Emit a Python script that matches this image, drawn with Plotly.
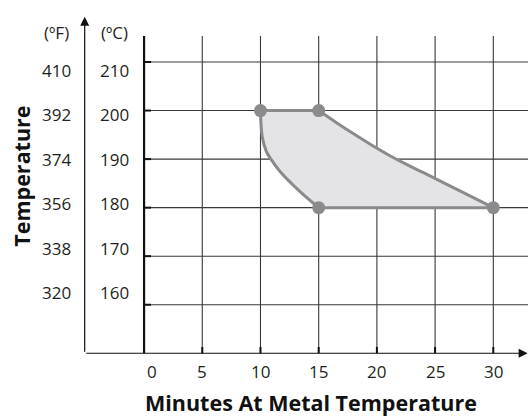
import plotly.graph_objects as go

# ---------------- data ----------------
minutes_ticks = [0, 5, 10, 15, 20, 25, 30]
celsius_ticks = [210, 200, 190, 180, 170, 160]
fahrenheit_labels = ["410", "392", "374", "356", "338", "320"]

corner_minutes = [10, 15, 15, 30]
corner_temps = [200, 200, 180, 180]

upper_curve_minutes = [15, 16.5, 18, 19.5, 21, 22.5, 24, 27, 30]
upper_curve_temps = [200, 197.55, 195.2, 192.95, 190.85, 188.95, 187.2, 183.6, 180]
left_curve_minutes = [15, 13.4, 11.7, 10.9, 10.5, 10.15, 10]
left_curve_temps = [180, 183.3, 187.4, 190, 191.6, 194.6, 200]

x_title = "Minutes At Metal Temperature"
y_title = "Temperature"
f_header = "(ºF)"
c_header = "(ºC)"

# ---------------- layout constants ----------------
X_RANGE = [-5.16, 32.98]
Y_RANGE = [149.85, 219.89]
AXIS_X = -5.1
AXIS_Y = 150
GRID_TOP = 215.36
FONT = "Open Sans"
TXT = "#231f20"
LINE_GRAY = "#8b8b8d"
FILL_GRAY = "#e4e4e6"
GRID = "#383838"

fig = go.Figure()

# filled window
poly_x = [10] + upper_curve_minutes + left_curve_minutes
poly_y = [200] + upper_curve_temps + left_curve_temps
fig.add_trace(go.Scatter(x=poly_x, y=poly_y, fill="toself", fillcolor=FILL_GRAY,
                         mode="lines", line=dict(width=0), hoverinfo="skip"))

# straight edges
fig.add_trace(go.Scatter(x=corner_minutes[0:2], y=corner_temps[0:2], mode="lines",
                         line=dict(color=LINE_GRAY, width=3)))
fig.add_trace(go.Scatter(x=corner_minutes[2:4], y=corner_temps[2:4], mode="lines",
                         line=dict(color=LINE_GRAY, width=3)))
# curved edges
fig.add_trace(go.Scatter(x=upper_curve_minutes, y=upper_curve_temps, mode="lines",
                         line=dict(color=LINE_GRAY, width=3, shape="spline", smoothing=1)))
fig.add_trace(go.Scatter(x=left_curve_minutes, y=left_curve_temps, mode="lines",
                         line=dict(color=LINE_GRAY, width=3, shape="spline", smoothing=1)))
# corner markers
fig.add_trace(go.Scatter(x=corner_minutes, y=corner_temps, mode="markers",
                         marker=dict(color=LINE_GRAY, size=13, line=dict(width=0))))

shapes = []
# vertical grid lines
for v in minutes_ticks:
    if v == 0:
        shapes.append(dict(type="line", x0=v, x1=v, y0=AXIS_Y, y1=GRID_TOP, xref="x", yref="y",
                           line=dict(color="#111111", width=2.2), layer="below"))
    else:
        shapes.append(dict(type="line", x0=v, x1=v, y0=AXIS_Y, y1=GRID_TOP, xref="x", yref="y",
                           line=dict(color=GRID, width=1.1), layer="below"))
        shapes.append(dict(type="line", x0=v, x1=v, y0=AXIS_Y, y1=AXIS_Y + 1.3, xref="x", yref="y",
                           line=dict(color="#111111", width=2), layer="below"))
# horizontal grid lines
for c in celsius_ticks:
    shapes.append(dict(type="line", x0=0, x1=X_RANGE[1], y0=c, y1=c, xref="x", yref="y",
                       line=dict(color=GRID, width=1.1), layer="below"))
    shapes.append(dict(type="line", x0=0, x1=0.6, y0=c, y1=c, xref="x", yref="y",
                       line=dict(color="#111111", width=2), layer="below"))

annotations = []
# axis arrows
annotations.append(dict(x=32.95, y=AXIS_Y, ax=AXIS_X, ay=AXIS_Y, xref="x", yref="y",
                        axref="x", ayref="y", showarrow=True, arrowhead=2, arrowsize=1.5,
                        arrowwidth=1.2, arrowcolor="#111111", text=""))
annotations.append(dict(x=AXIS_X, y=219.3, ax=AXIS_X, ay=AXIS_Y, xref="x", yref="y",
                        axref="x", ayref="y", showarrow=True, arrowhead=2, arrowsize=1.5,
                        arrowwidth=1.2, arrowcolor="#111111", text=""))

# x tick labels
for v in minutes_ticks:
    annotations.append(dict(x=v, y=AXIS_Y, xref="x", yref="y", text=str(v), showarrow=False,
                            xanchor="center", yanchor="middle", yshift=-18,
                            xshift=8 if v == 0 else 0,
                            font=dict(family=FONT, size=17, color=TXT)))
# y tick labels (C and F)
for i, (c, f) in enumerate(zip(celsius_ticks, fahrenheit_labels)):
    ys = -8.5 + 4.1 * i
    annotations.append(dict(x=0, y=c, xref="x", yref="y", text=str(c), showarrow=False,
                            xanchor="center", yanchor="middle", xshift=-29.5, yshift=ys,
                            font=dict(family=FONT, size=17, color=TXT)))
    annotations.append(dict(x=0, y=c, xref="x", yref="y", text=f, showarrow=False,
                            xanchor="center", yanchor="middle", xshift=-87.5, yshift=ys,
                            font=dict(family=FONT, size=17, color=TXT)))
# headers
annotations.append(dict(x=0, y=210, xref="x", yref="y", text=c_header, showarrow=False,
                        xanchor="center", yanchor="middle", xshift=-29.5, yshift=30,
                        font=dict(family=FONT, size=17, color=TXT)))
annotations.append(dict(x=0, y=210, xref="x", yref="y", text=f_header, showarrow=False,
                        xanchor="center", yanchor="middle", xshift=-87.5, yshift=30,
                        font=dict(family=FONT, size=17, color=TXT)))
# titles
annotations.append(dict(x=0, y=AXIS_Y, xref="x", yref="y", text=x_title, showarrow=False,
                        xanchor="center", yanchor="middle", xshift=167, yshift=-49,
                        font=dict(family=FONT, size=21.5, color="#111111", weight=700)))
annotations.append(dict(x=0, y=180, xref="x", yref="y", text=y_title, showarrow=False,
                        textangle=-90, xanchor="center", yanchor="middle", xshift=-122, yshift=31,
                        font=dict(family=FONT, size=21.5, color="#111111", weight=700)))

fig.update_layout(
    width=528, height=416, autosize=False,
    margin=dict(l=84, r=0, t=14, b=62, pad=0),
    paper_bgcolor="white", plot_bgcolor="white",
    showlegend=False,
    xaxis=dict(range=X_RANGE, visible=False, fixedrange=True),
    yaxis=dict(range=Y_RANGE, visible=False, fixedrange=True),
    shapes=shapes, annotations=annotations,
)

fig.write_html("out.html", config={"displayModeBar": False},
               post_script="document.body.style.margin='0';document.body.style.overflow='hidden';")
